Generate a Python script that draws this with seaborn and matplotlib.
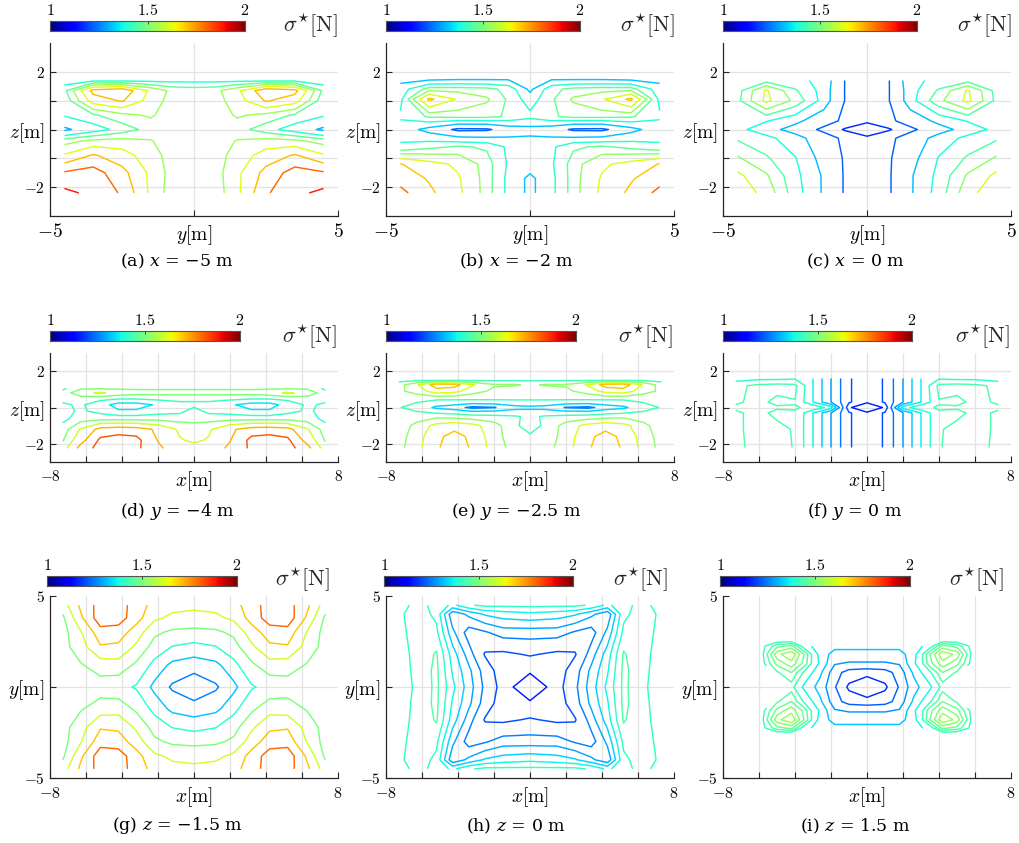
import numpy as np
import matplotlib
matplotlib.use("Agg")
import matplotlib.pyplot as plt
import seaborn as sns
from matplotlib.colors import Normalize

nan = np.nan

# ---------------- data (sigma* in N) ----------------
# Row 1: slices x = const, horizontal axis y, vertical axis z
Y_ABC = [-4.5, -3.5, -2.5, -1.5, -0.75, 0, 0.75, 1.5, 2.5, 3.5, 4.5]

Z_A = [-2.2, -1.5, -0.9, -0.4, 0.0, 0.5, 1.0, 1.35, 1.7]
A_VALUES = [
    [1.90, 1.86, 1.79, 1.60, 1.50, 1.50, 1.50, 1.60, 1.79, 1.86, 1.90],
    [1.81, 1.84, 1.74, 1.60, 1.51, 1.50, 1.51, 1.60, 1.74, 1.84, 1.81],
    [1.63, 1.72, 1.66, 1.57, 1.51, 1.50, 1.51, 1.57, 1.66, 1.72, 1.63],
    [1.51, 1.56, 1.57, 1.545, 1.50, 1.50, 1.50, 1.545, 1.57, 1.56, 1.51],
    [1.28, 1.36, 1.43, 1.50, 1.50, 1.49, 1.50, 1.50, 1.43, 1.36, 1.28],
    [1.41, 1.46, 1.52, 1.55, 1.50, 1.49, 1.50, 1.55, 1.52, 1.46, 1.41],
    [1.42, 1.66, 1.72, 1.58, 1.51, 1.50, 1.51, 1.58, 1.72, 1.66, 1.42],
    [1.45, 1.74, 1.78, 1.60, 1.52, 1.51, 1.52, 1.60, 1.78, 1.74, 1.45],
    [1.36, 1.38, 1.38, 1.38, 1.38, 1.38, 1.38, 1.38, 1.38, 1.38, 1.36],
]
LEVELS_A = [1.30, 1.40, 1.47, 1.54, 1.62, 1.71, 1.80, 1.88]

Z_B = [-2.2, -1.7, -1.2, -0.6, 0.0, 0.45, 1.05, 1.4, 1.75]
B_VALUES = [
    [1.83, 1.72, 1.63, 1.50, 1.38, 1.30, 1.38, 1.50, 1.63, 1.72, 1.83],
    [1.76, 1.69, 1.62, 1.50, 1.38, 1.30, 1.38, 1.50, 1.62, 1.69, 1.76],
    [1.705, 1.64, 1.595, 1.50, 1.39, 1.36, 1.39, 1.50, 1.595, 1.64, 1.705],
    [1.41, 1.45, 1.48, 1.46, 1.385, 1.37, 1.385, 1.46, 1.48, 1.45, 1.41],
    [1.37, 1.29, 1.20, 1.205, 1.27, 1.29, 1.27, 1.205, 1.20, 1.29, 1.37],
    [1.41, 1.48, 1.49, 1.49, 1.46, 1.42, 1.46, 1.49, 1.49, 1.48, 1.41],
    [1.38, 1.72, 1.60, 1.54, 1.46, 1.36, 1.46, 1.54, 1.60, 1.72, 1.38],
    [1.36, 1.50, 1.50, 1.49, 1.45, 1.30, 1.45, 1.49, 1.50, 1.50, 1.36],
    [1.29, 1.30, 1.31, 1.31, 1.31, 1.27, 1.31, 1.31, 1.31, 1.30, 1.29],
]
LEVELS_B = [1.22, 1.32, 1.40, 1.47, 1.53, 1.61, 1.70, 1.80]

Z_C = [-2.2, -1.6, -1.0, -0.3, 0.0, 0.3, 1.0, 1.35, 1.7]
C_VALUES = [
    [1.66, 1.57, 1.41, 1.30, 1.21, 1.19, 1.21, 1.30, 1.41, 1.57, 1.66],
    [1.62, 1.53, 1.40, 1.30, 1.21, 1.19, 1.21, 1.30, 1.40, 1.53, 1.62],
    [1.53, 1.46, 1.385, 1.28, 1.21, 1.19, 1.21, 1.28, 1.385, 1.46, 1.53],
    [1.44, 1.40, 1.34, 1.26, 1.20, 1.19, 1.20, 1.26, 1.34, 1.40, 1.44],
    [1.40, 1.34, 1.28, 1.20, 1.165, 1.10, 1.165, 1.20, 1.28, 1.34, 1.40],
    [1.42, 1.385, 1.33, 1.26, 1.20, 1.19, 1.20, 1.26, 1.33, 1.385, 1.42],
    [1.43, 1.62, 1.50, 1.35, 1.215, 1.19, 1.215, 1.35, 1.50, 1.62, 1.43],
    [1.42, 1.61, 1.46, 1.35, 1.215, 1.19, 1.215, 1.35, 1.46, 1.61, 1.42],
    [1.40, 1.42, 1.40, 1.36, 1.215, 1.19, 1.215, 1.36, 1.40, 1.42, 1.40],
]
LEVELS_C = [1.17, 1.22, 1.31, 1.38, 1.45, 1.52, 1.60, 1.68]

# Row 2: slices y = const, horizontal axis x, vertical axis z
X_DE = [-7.3, -6.3, -5.2, -4.2, -3.2, -2.0, -0.8, 0, 0.8, 2.0, 3.2, 4.2, 5.2, 6.3, 7.3]

Z_D = [-2.25, -1.8, -1.2, -0.6, -0.2, 0.15, 0.5, 0.8, 1.05]
D_VALUES = [
    [1.55, 1.76, 1.86, 1.88, 1.84, 1.74, 1.66, 1.64, 1.66, 1.74, 1.84, 1.88, 1.86, 1.76, 1.55],
    [1.49, 1.68, 1.84, 1.86, 1.85, 1.715, 1.61, 1.58, 1.61, 1.715, 1.85, 1.86, 1.84, 1.68, 1.49],
    [1.45, 1.61, 1.76, 1.78, 1.77, 1.70, 1.58, 1.56, 1.58, 1.70, 1.77, 1.78, 1.76, 1.61, 1.45],
    [1.40, 1.45, 1.46, 1.46, 1.46, 1.46, 1.46, 1.46, 1.46, 1.46, 1.46, 1.46, 1.46, 1.45, 1.40],
    [1.40, 1.43, 1.40, 1.36, 1.36, 1.39, 1.40, 1.45, 1.40, 1.39, 1.36, 1.36, 1.40, 1.43, 1.40],
    [1.41, 1.43, 1.38, 1.32, 1.32, 1.36, 1.40, 1.40, 1.40, 1.36, 1.32, 1.32, 1.38, 1.43, 1.41],
    [1.44, 1.46, 1.44, 1.43, 1.43, 1.44, 1.44, 1.44, 1.44, 1.44, 1.43, 1.43, 1.44, 1.46, 1.44],
    [1.45, 1.56, 1.62, 1.55, 1.53, 1.53, 1.53, 1.53, 1.53, 1.53, 1.53, 1.55, 1.62, 1.56, 1.45],
    [1.40, 1.49, 1.49, 1.49, 1.49, 1.49, 1.49, 1.49, 1.49, 1.49, 1.49, 1.49, 1.49, 1.49, 1.40],
]
LEVELS_D = [1.35, 1.42, 1.50, 1.60, 1.72, 1.82]

Z_E = [-2.2, -1.6, -1.0, -0.5, 0.0, 0.45, 0.9, 1.25, 1.5]
E_VALUES = [
    [1.49, 1.58, 1.69, 1.74, 1.69, 1.57, 1.48, 1.47, 1.48, 1.57, 1.69, 1.74, 1.69, 1.58, 1.49],
    [1.48, 1.57, 1.68, 1.73, 1.68, 1.56, 1.46, 1.44, 1.46, 1.56, 1.68, 1.73, 1.68, 1.57, 1.48],
    [1.46, 1.55, 1.64, 1.67, 1.64, 1.56, 1.44, 1.40, 1.44, 1.56, 1.64, 1.67, 1.64, 1.55, 1.46],
    [1.44, 1.47, 1.50, 1.49, 1.47, 1.46, 1.44, 1.41, 1.44, 1.46, 1.47, 1.49, 1.50, 1.47, 1.44],
    [1.435, 1.40, 1.31, 1.28, 1.23, 1.245, 1.30, 1.31, 1.30, 1.245, 1.23, 1.28, 1.31, 1.40, 1.435],
    [1.47, 1.45, 1.44, 1.44, 1.44, 1.44, 1.44, 1.44, 1.44, 1.44, 1.44, 1.44, 1.44, 1.45, 1.47],
    [1.50, 1.56, 1.66, 1.64, 1.56, 1.50, 1.46, 1.44, 1.46, 1.50, 1.56, 1.64, 1.66, 1.56, 1.50],
    [1.48, 1.60, 1.75, 1.74, 1.62, 1.53, 1.53, 1.50, 1.53, 1.53, 1.62, 1.74, 1.75, 1.60, 1.48],
    [1.40, 1.42, 1.42, 1.42, 1.42, 1.42, 1.42, 1.42, 1.42, 1.42, 1.42, 1.42, 1.42, 1.42, 1.40],
]
LEVELS_E = [1.25, 1.33, 1.43, 1.52, 1.61, 1.70]

X_F = [-7.3, -6, -5, -4, -3, -2, -1, 0, 1, 2, 3, 4, 5, 6, 7.3]
Z_F = [-2.2, -1.2, -0.3, 0.0, 0.3, 1.2, 1.6]
F_VALUES = [
    [1.43, 1.455, 1.45, 1.438, 1.36, 1.28, 1.205, 1.17, 1.205, 1.28, 1.36, 1.438, 1.45, 1.455, 1.43],
    [1.43, 1.46, 1.452, 1.436, 1.36, 1.28, 1.205, 1.17, 1.205, 1.28, 1.36, 1.436, 1.452, 1.46, 1.43],
    [1.435, 1.45, 1.43, 1.438, 1.36, 1.28, 1.205, 1.17, 1.205, 1.28, 1.36, 1.438, 1.43, 1.45, 1.435],
    [1.445, 1.45, 1.445, 1.442, 1.435, 1.38, 1.17, 1.10, 1.17, 1.38, 1.435, 1.442, 1.445, 1.45, 1.445],
    [1.435, 1.45, 1.43, 1.438, 1.36, 1.28, 1.205, 1.17, 1.205, 1.28, 1.36, 1.438, 1.43, 1.45, 1.435],
    [1.43, 1.45, 1.455, 1.45, 1.36, 1.28, 1.205, 1.17, 1.205, 1.28, 1.36, 1.45, 1.455, 1.45, 1.43],
    [1.38, 1.39, 1.39, 1.395, 1.36, 1.28, 1.205, 1.17, 1.205, 1.28, 1.36, 1.395, 1.39, 1.39, 1.38],
]
LEVELS_F = [1.16, 1.20, 1.24, 1.28, 1.32, 1.36, 1.40, 1.44]

# Row 3: slices z = const, horizontal axis x, vertical axis y
X_G = [-7.3, -6.3, -5.2, -4.2, -3.2, -2.2, -1.2, 0, 1.2, 2.2, 3.2, 4.2, 5.2, 6.3, 7.3]
Y_G = [-4.5, -3.8, -3.0, -2.2, -1.2, 0.0, 1.2, 2.2, 3.0, 3.8, 4.5]
G_VALUES = [
    [1.55, 1.72, 1.84, 1.84, 1.76, 1.66, 1.63, 1.62, 1.63, 1.66, 1.76, 1.84, 1.84, 1.72, 1.55],
    [1.48, 1.68, 1.86, 1.85, 1.74, 1.62, 1.58, 1.57, 1.58, 1.62, 1.74, 1.85, 1.86, 1.68, 1.48],
    [1.46, 1.59, 1.76, 1.75, 1.65, 1.52, 1.48, 1.47, 1.48, 1.52, 1.65, 1.75, 1.76, 1.59, 1.46],
    [1.46, 1.56, 1.69, 1.68, 1.58, 1.46, 1.395, 1.37, 1.395, 1.46, 1.58, 1.68, 1.69, 1.56, 1.46],
    [1.45, 1.49, 1.55, 1.56, 1.48, 1.37, 1.30, 1.28, 1.30, 1.37, 1.48, 1.56, 1.55, 1.49, 1.45],
    [1.45, 1.46, 1.45, 1.43, 1.39, 1.30, 1.24, 1.20, 1.24, 1.30, 1.39, 1.43, 1.45, 1.46, 1.45],
    [1.45, 1.49, 1.55, 1.56, 1.48, 1.37, 1.30, 1.28, 1.30, 1.37, 1.48, 1.56, 1.55, 1.49, 1.45],
    [1.46, 1.56, 1.69, 1.68, 1.58, 1.46, 1.395, 1.37, 1.395, 1.46, 1.58, 1.68, 1.69, 1.56, 1.46],
    [1.46, 1.59, 1.76, 1.75, 1.65, 1.52, 1.48, 1.47, 1.48, 1.52, 1.65, 1.75, 1.76, 1.59, 1.46],
    [1.48, 1.68, 1.86, 1.85, 1.74, 1.62, 1.58, 1.57, 1.58, 1.62, 1.74, 1.85, 1.86, 1.68, 1.48],
    [1.55, 1.72, 1.84, 1.84, 1.76, 1.66, 1.63, 1.62, 1.63, 1.66, 1.76, 1.84, 1.84, 1.72, 1.55],
]
LEVELS_G = [1.25, 1.32, 1.40, 1.50, 1.60, 1.70, 1.80]

X_H = [-7.2, -6.2, -5.2, -4.3, -3.4, -2.5, -1.5, 0, 1.5, 2.5, 3.4, 4.3, 5.2, 6.2, 7.2]
Y_H = [-4.5, -4.0, -3.0, -1.8, -0.9, 0.0, 0.9, 1.8, 3.0, 4.0, 4.5]
H_VALUES = [
    [1.40, 1.42, 1.40, 1.36, 1.405, 1.42, 1.42, 1.42, 1.42, 1.42, 1.405, 1.36, 1.40, 1.42, 1.40],
    [1.405, 1.43, 1.40, 1.26, 1.30, 1.335, 1.35, 1.36, 1.35, 1.335, 1.30, 1.26, 1.40, 1.43, 1.405],
    [1.40, 1.43, 1.42, 1.30, 1.23, 1.245, 1.27, 1.27, 1.27, 1.245, 1.23, 1.30, 1.42, 1.43, 1.40],
    [1.40, 1.42, 1.455, 1.35, 1.27, 1.195, 1.19, 1.205, 1.19, 1.195, 1.27, 1.35, 1.455, 1.42, 1.40],
    [1.39, 1.425, 1.46, 1.365, 1.30, 1.23, 1.17, 1.16, 1.17, 1.23, 1.30, 1.365, 1.46, 1.425, 1.39],
    [1.39, 1.42, 1.46, 1.38, 1.31, 1.24, 1.18, 1.10, 1.18, 1.24, 1.31, 1.38, 1.46, 1.42, 1.39],
    [1.39, 1.425, 1.46, 1.365, 1.30, 1.23, 1.17, 1.16, 1.17, 1.23, 1.30, 1.365, 1.46, 1.425, 1.39],
    [1.40, 1.42, 1.455, 1.35, 1.27, 1.195, 1.19, 1.205, 1.19, 1.195, 1.27, 1.35, 1.455, 1.42, 1.40],
    [1.40, 1.43, 1.42, 1.30, 1.23, 1.245, 1.27, 1.27, 1.27, 1.245, 1.23, 1.30, 1.42, 1.43, 1.40],
    [1.405, 1.43, 1.40, 1.26, 1.30, 1.335, 1.35, 1.36, 1.35, 1.335, 1.30, 1.26, 1.40, 1.43, 1.405],
    [1.40, 1.42, 1.40, 1.36, 1.405, 1.42, 1.42, 1.42, 1.42, 1.42, 1.405, 1.36, 1.40, 1.42, 1.40],
]
LEVELS_H = [1.15, 1.20, 1.25, 1.29, 1.33, 1.37, 1.41, 1.45]

X_I = [-5.8, -5.0, -4.2, -3.5, -2.6, -1.8, -1.0, 0, 1.0, 1.8, 2.6, 3.5, 4.2, 5.0, 5.8]
Y_I = [-2.5, -2.25, -1.8, -1.3, -0.8, 0.0, 0.8, 1.3, 1.8, 2.25, 2.5]
I_VALUES = [
    [1.40, 1.41, 1.415, nan, nan, nan, nan, nan, nan, nan, nan, nan, 1.415, 1.41, 1.40],
    [1.41, 1.47, 1.49, 1.40, 1.335, 1.335, 1.335, 1.335, 1.335, 1.335, 1.335, 1.40, 1.49, 1.47, 1.41],
    [1.415, 1.53, 1.565, 1.48, 1.35, 1.30, 1.30, 1.30, 1.30, 1.30, 1.35, 1.48, 1.565, 1.53, 1.415],
    [1.41, 1.49, 1.53, 1.47, 1.36, 1.275, 1.265, 1.265, 1.265, 1.275, 1.36, 1.47, 1.53, 1.49, 1.41],
    [nan, 1.445, 1.48, 1.415, 1.33, 1.24, 1.20, 1.19, 1.20, 1.24, 1.33, 1.415, 1.48, 1.445, nan],
    [nan, 1.43, 1.435, 1.36, 1.30, 1.225, 1.16, 1.12, 1.16, 1.225, 1.30, 1.36, 1.435, 1.43, nan],
    [nan, 1.445, 1.48, 1.415, 1.33, 1.24, 1.20, 1.19, 1.20, 1.24, 1.33, 1.415, 1.48, 1.445, nan],
    [1.41, 1.49, 1.53, 1.47, 1.36, 1.275, 1.265, 1.265, 1.265, 1.275, 1.36, 1.47, 1.53, 1.49, 1.41],
    [1.415, 1.53, 1.565, 1.48, 1.35, 1.30, 1.30, 1.30, 1.30, 1.30, 1.35, 1.48, 1.565, 1.53, 1.415],
    [1.41, 1.47, 1.49, 1.40, 1.335, 1.335, 1.335, 1.335, 1.335, 1.335, 1.335, 1.40, 1.49, 1.47, 1.41],
    [1.40, 1.41, 1.415, nan, nan, nan, nan, nan, nan, nan, nan, nan, 1.415, 1.41, 1.40],
]
LEVELS_I = [1.17, 1.22, 1.27, 1.32, 1.37, 1.42, 1.45, 1.48, 1.51, 1.54]

PANEL_KEYS = ["a", "b", "c", "d", "e", "f", "g", "h", "i"]
SLICE_AXIS = ["x", "x", "x", "y", "y", "y", "z", "z", "z"]
SLICE_VALUE = ["\u22125", "\u22122", "0", "\u22124", "\u22122.5", "0", "\u22121.5", "0", "1.5"]
CBAR_RANGE = [1.0, 2.0]
CBAR_TICKS = [1, 1.5, 2]
CBAR_TICKLABELS = ["$1$", "$1.5$", "$2$"]

# ---------------- style ----------------
sns.set_theme(style="white")
plt.rcParams["mathtext.fontset"] = "cm"
plt.rcParams["font.family"] = ["DejaVu Serif", "DejaVu Sans"]
plt.rcParams["axes.edgecolor"] = "#262626"

cmap = matplotlib.colormaps["jet"]
norm = Normalize(*CBAR_RANGE)

W, H = 1019, 843
fig = plt.figure(figsize=(W / 100, H / 100), dpi=100)


def rect(l, t, r, b):
    return [l / W, 1 - b / H, (r - l) / W, (b - t) / H]


AX_LEFT = [50, 386, 723]
AX_W = 288
ROW_TOP = [43, 353, 596]
ROW_BOT = [216, 462, 778]
CB_X = [[(50, 245), (386, 580), (723, 917)],
        [(50, 240), (386, 576), (723, 912)],
        [(47, 237), (384, 573), (720, 910)]]
CB_Y = [(21, 31), (331, 341), (576, 586)]
SIG_R = [[338, 675, 1012], [337, 673, 1010], [330, 668, 1004]]
SIG_Y = [26, 337, 580]
CAP_X = [177, 516, 855]
CAP_Y = [261, 512, 826]

NAME = {"x": r"$x[\mathrm{m}]$", "y": r"$y[\mathrm{m}]$", "z": r"$z[\mathrm{m}]$"}
ROWS = [
    dict(xlim=(-5, 5), ylim=(-3, 3), xticks=[-5, 0, 5], xtl=["$-5$", NAME["y"], "$5$"],
         yticks=[-2, -1, 0, 1, 2], ytl=["$-2$", "", NAME["z"], "", "$2$"],
         vgrid=[0], hgrid=[-2, -1, 0, 1, 2], xnum=14, ynum=11),
    dict(xlim=(-8, 8), ylim=(-3, 3), xticks=[-8, -6, -4, -2, 0, 2, 4, 6, 8],
         xtl=["$-8$", "", "", "", NAME["x"], "", "", "", "$8$"],
         yticks=[-2, 0, 2], ytl=["$-2$", NAME["z"], "$2$"],
         vgrid=[-6, -4, -2, 0, 2, 4, 6], hgrid=[-2, 0, 2], xnum=11, ynum=11),
    dict(xlim=(-8, 8), ylim=(-5, 5), xticks=[-8, -6, -4, -2, 0, 2, 4, 6, 8],
         xtl=["$-8$", "", "", "", NAME["x"], "", "", "", "$8$"],
         yticks=[-5, 0, 5], ytl=["$-5$", NAME["y"], "$5$"],
         vgrid=[-6, -4, -2, 0, 2, 4, 6], hgrid=[0], xnum=11.5, ynum=11),
]

PANELS = [
    (Y_ABC, Z_A, A_VALUES, LEVELS_A),
    (Y_ABC, Z_B, B_VALUES, LEVELS_B),
    (Y_ABC, Z_C, C_VALUES, LEVELS_C),
    (X_DE, Z_D, D_VALUES, LEVELS_D),
    (X_DE, Z_E, E_VALUES, LEVELS_E),
    (X_F, Z_F, F_VALUES, LEVELS_F),
    (X_G, Y_G, G_VALUES, LEVELS_G),
    (X_H, Y_H, H_VALUES, LEVELS_H),
    (X_I, Y_I, I_VALUES, LEVELS_I),
]

gradient = np.linspace(CBAR_RANGE[0], CBAR_RANGE[1], 256).reshape(1, -1)

for idx, (hx, vz, vals, levels) in enumerate(PANELS):
    r, c = divmod(idx, 3)
    cfg = ROWS[r]
    ax = fig.add_axes(rect(AX_LEFT[c], ROW_TOP[r], AX_LEFT[c] + AX_W, ROW_BOT[r]))
    ax.set_facecolor("white")
    for g in cfg["vgrid"]:
        ax.axvline(g, color="#e3e3e3", lw=0.9, zorder=0)
    for g in cfg["hgrid"]:
        ax.axhline(g, color="#e3e3e3", lw=0.9, zorder=0)
    Z = np.ma.masked_invalid(np.array(vals, dtype=float))
    ax.contour(np.array(hx), np.array(vz), Z, levels=levels, cmap=cmap, norm=norm,
               linewidths=1.05, zorder=2)
    ax.set_xlim(*cfg["xlim"])
    ax.set_ylim(*cfg["ylim"])
    for s in ["top", "right"]:
        ax.spines[s].set_visible(False)
    for s in ["left", "bottom"]:
        ax.spines[s].set_linewidth(0.9)
        ax.spines[s].set_color("#262626")
    ax.set_xticks(cfg["xticks"])
    ax.set_xticklabels(cfg["xtl"])
    ax.set_yticks(cfg["yticks"])
    ax.set_yticklabels(cfg["ytl"])
    ax.tick_params(axis="both", direction="in", length=4, width=0.8, colors="#262626",
                   bottom=True, left=True)
    ax.tick_params(axis="x", pad=5)
    ax.tick_params(axis="y", pad=4)
    for lab in ax.get_xticklabels():
        lab.set_fontsize(14 if "[" in lab.get_text() else cfg["xnum"])
        lab.set_color("black")
    for lab in ax.get_yticklabels():
        lab.set_fontsize(14 if "[" in lab.get_text() else cfg["ynum"])
        lab.set_color("black")

    # colour bar (drawn as a gradient strip)
    (cl, cr), (ct, cbt) = CB_X[r][c], CB_Y[r]
    cax = fig.add_axes(rect(cl, ct, cr, cbt))
    cax.imshow(gradient, cmap=cmap, norm=norm, aspect="auto",
               extent=[CBAR_RANGE[0], CBAR_RANGE[1], 0, 1])
    cax.set_xlim(*CBAR_RANGE)
    cax.set_ylim(0, 1)
    cax.set_yticks([])
    cax.xaxis.tick_top()
    cax.set_xticks(CBAR_TICKS)
    cax.set_xticklabels(CBAR_TICKLABELS)
    cax.tick_params(axis="x", top=True, bottom=False, labeltop=True, labelbottom=False,
                    labelsize=11.5, length=2, width=0.6, direction="in", pad=1.5,
                    colors="#333333", labelcolor="black")
    for s in cax.spines.values():
        s.set_visible(True)
        s.set_edgecolor("#555555")
        s.set_linewidth(0.8)
    fig.text(SIG_R[r][c] / W, 1 - SIG_Y[r] / H, r"$\sigma^{\star}[\mathrm{N}]$",
             ha="right", va="center", fontsize=16)

    # caption
    cap = "(%s) $%s$ = %s m" % (PANEL_KEYS[idx], SLICE_AXIS[idx], SLICE_VALUE[idx])
    fig.text(CAP_X[c] / W, 1 - CAP_Y[r] / H, cap, ha="center", va="center",
             fontsize=12.5, color="black", family="DejaVu Serif",
             math_fontfamily="dejavuserif")

fig.savefig("out.png", dpi=100, facecolor="white")
